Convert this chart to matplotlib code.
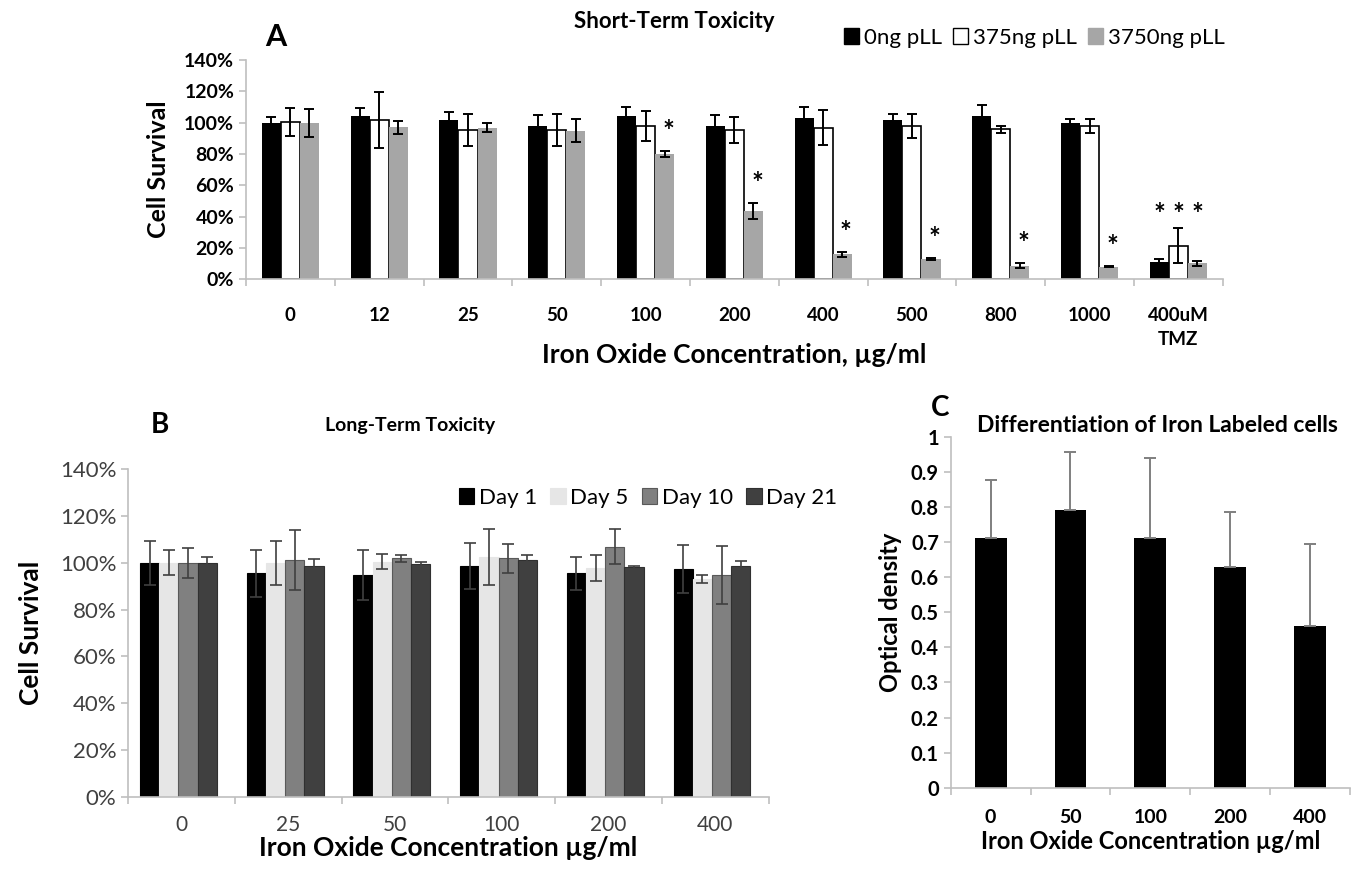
import numpy as np
import matplotlib.pyplot as plt
from matplotlib.patches import Patch

plt.rcParams['font.family'] = ['Lato', 'DejaVu Sans']

# ---- panel A: short-term toxicity ----
conc_a = ['0', '12', '25', '50', '100', '200', '400', '500', '800', '1000', '400uM\nTMZ']
pll0 = [99.6, 104.3, 101.7, 98.1, 104.3, 98.1, 103.2, 101.7, 104.3, 99.6, 11.3]
pll0_err = [4, 5, 5, 7, 5.5, 7, 7, 4, 7, 3, 1.5]
pll375 = [100.6, 101.7, 95.3, 95.3, 97.9, 95.3, 96.8, 97.9, 95.8, 97.9, 21.5]
pll375_err = [9, 18, 10, 10, 9.6, 8, 11, 7.5, 2.3, 4.3, 11]
pll3750 = [99.6, 97, 96.8, 94.9, 80, 43.8, 16, 13, 8.7, 8, 10.2]
pll3750_err = [9, 4, 3, 7.5, 2, 5, 1.5, 0.5, 1.5, 0.3, 1.5]
star_idx = [4, 5, 6, 7, 8, 9]

# ---- panel B: long-term toxicity ----
conc_b = ['0', '25', '50', '100', '200', '400']
days = ['Day 1', 'Day 5', 'Day 10', 'Day 21']
day1 = [100, 95.5, 94.8, 98.8, 95.5, 97.4]
day1_err = [9.3, 10, 10.7, 9.8, 7.1, 10.2]
day5 = [100, 100, 100.4, 102.5, 97.8, 92.9]
day5_err = [5.3, 9.5, 3.2, 12, 5.6, 1.7]
day10 = [100, 101.2, 101.9, 101.9, 106.9, 94.8]
day10_err = [6.5, 12.7, 1.5, 6.2, 7.4, 12.5]
day21 = [100, 98.6, 99.5, 101.2, 98.1, 98.8]
day21_err = [2.4, 3.2, 1, 2.3, 0.7, 2]

# ---- panel C: differentiation ----
conc_c = ['0', '50', '100', '200', '400']
od = [0.71, 0.79, 0.71, 0.63, 0.46]
od_err = [0.167, 0.166, 0.23, 0.155, 0.235]

W, H = 1368, 873
fig = plt.figure(figsize=(W / 100, H / 100), dpi=100)


def box(x0, x1, ytop, ybot):
    return [x0 / W, 1 - ybot / H, (x1 - x0) / W, (ybot - ytop) / H]


def style_axes(ax):
    for s in ['top', 'right']:
        ax.spines[s].set_visible(False)
    for s in ['left', 'bottom']:
        ax.spines[s].set_color('#bfbfbf')
        ax.spines[s].set_linewidth(1.2)
    ax.tick_params(axis='both', color='#bfbfbf', width=1.2, length=5, direction='out')


# panel A
axA = fig.add_axes(box(246, 1222.7, 60, 279.3))
xa = np.arange(len(conc_a))
wa = 0.215
ekw = dict(ecolor='black', elinewidth=1.4, capsize=3.5, capthick=1.4)
axA.bar(xa - wa, pll0, wa, color='black', yerr=pll0_err, error_kw=ekw)
axA.bar(xa, pll375, wa, color='white', edgecolor='black', linewidth=1.2, yerr=pll375_err, error_kw=ekw)
axA.bar(xa + wa, pll3750, wa, color='#a6a6a6', yerr=pll3750_err, error_kw=ekw)
for i in star_idx:
    axA.text(xa[i] + wa + 0.04, pll3750[i] + pll3750_err[i] + 4, '*', ha='center', va='bottom',
             fontsize=20, fontweight='bold')
for dx in (-wa, 0, wa):
    axA.text(xa[-1] + dx, 33, '*', ha='center', va='bottom', fontsize=20, fontweight='bold')
axA.set_xlim(-0.5, len(conc_a) - 0.5)
axA.set_ylim(0, 140)
axA.set_yticks(np.arange(0, 141, 20))
axA.set_yticklabels([f'{v}%' for v in range(0, 141, 20)], fontsize=14, fontweight='bold')
axA.set_xticks(np.arange(-0.5, len(conc_a)))
axA.set_xticklabels([])
axA.set_xticks(xa, minor=True)
axA.set_xticklabels(conc_a, minor=True, fontsize=13.5, fontweight='bold', linespacing=1.5)
style_axes(axA)
axA.tick_params(axis='x', which='minor', length=0, pad=20)
axA.set_ylabel('Cell Survival', fontsize=18, fontweight='bold', labelpad=10)
axA.set_xlabel('Iron Oxide Concentration, µg/ml', fontsize=19, fontweight='bold', labelpad=-4)
fig.text(276 / W, 1 - 37 / H, 'A', fontsize=22, fontweight='bold', ha='center', va='center')
fig.text(674 / W, 1 - 21 / H, 'Short-Term Toxicity', fontsize=16, fontweight='bold', ha='center', va='center')
hA = [Patch(facecolor='black', edgecolor='black'),
      Patch(facecolor='white', edgecolor='black'),
      Patch(facecolor='#a6a6a6', edgecolor='#a6a6a6')]
fig.legend(hA, ['0ng pLL', '375ng pLL', '3750ng pLL'], loc='center', bbox_to_anchor=(1034 / W, 1 - 38 / H),
           ncol=3, frameon=False, fontsize=16, handlelength=0.7, handleheight=0.7,
           handletextpad=0.2, columnspacing=0.5)

# panel B
axB = fig.add_axes(box(128.3, 768.5, 469.3, 796.7))
xb = np.arange(len(conc_b))
wb = 0.18
cols = ['#000000', '#e6e6e6', '#808080', '#404040']
edges = ['#000000', '#e6e6e6', '#595959', '#303030']
ekwb = dict(ecolor='#404040', elinewidth=1.2, capsize=4, capthick=1.2)
for k, (vals, errs) in enumerate([(day1, day1_err), (day5, day5_err), (day10, day10_err), (day21, day21_err)]):
    axB.bar(xb + (k - 1.5) * wb - 0.03, vals, wb, color=cols[k], edgecolor=edges[k], linewidth=0.8,
            yerr=errs, error_kw=ekwb, label=days[k])
axB.set_xlim(-0.5, len(conc_b) - 0.5)
axB.set_ylim(0, 140)
axB.set_yticks(np.arange(0, 141, 20))
axB.set_yticklabels([f'{v}%' for v in range(0, 141, 20)], fontsize=16, color='#404040')
axB.set_xticks(np.arange(-0.5, len(conc_b)))
axB.set_xticklabels([])
axB.set_xticks(xb, minor=True)
axB.set_xticklabels(conc_b, minor=True, fontsize=15, color='#404040')
style_axes(axB)
axB.tick_params(axis='x', which='minor', length=0, pad=13)
axB.set_ylabel('Cell Survival', fontsize=19, fontweight='bold', labelpad=12)
axB.set_xlabel('Iron Oxide Concentration µg/ml', fontsize=19, fontweight='bold', labelpad=1)
axB.legend(loc='center', bbox_to_anchor=(648 / W, 1 - 498 / H), bbox_transform=fig.transFigure,
           ncol=4, frameon=False, fontsize=16, handlelength=0.7, handleheight=0.7,
           handletextpad=0.2, columnspacing=0.6)
fig.text(160 / W, 1 - 425 / H, 'B', fontsize=20, fontweight='bold', ha='center', va='center')
fig.text(410 / W, 1 - 425 / H, 'Long-Term Toxicity', fontsize=14, fontweight='bold', ha='center', va='center')

# panel C
axC = fig.add_axes(box(950.7, 1350, 436.7, 787.7))
xc = np.arange(len(conc_c))
axC.bar(xc, od, 0.4, color='black', yerr=[np.zeros(len(od)), od_err],
        error_kw=dict(ecolor='#7f7f7f', elinewidth=1.4, capsize=4, capthick=1.4))
axC.set_xlim(-0.5, len(conc_c) - 0.5)
axC.set_ylim(0, 1)
axC.set_yticks(np.arange(0, 1.01, 0.1))
axC.set_yticklabels(['0'] + [f'{v:.1f}' for v in np.arange(0.1, 0.95, 0.1)] + ['1'],
                    fontsize=14.5, fontweight='bold')
axC.set_xticks(np.arange(-0.5, len(conc_c)))
axC.set_xticklabels([])
axC.set_xticks(xc, minor=True)
axC.set_xticklabels(conc_c, minor=True, fontsize=14, fontweight='bold')
style_axes(axC)
axC.tick_params(axis='x', which='minor', length=0, pad=15)
axC.set_ylabel('Optical density', fontsize=17, fontweight='bold', labelpad=6)
axC.set_xlabel('Iron Oxide Concentration µg/ml', fontsize=17, fontweight='bold', labelpad=3)
fig.text(940 / W, 1 - 408 / H, 'C', fontsize=20, fontweight='bold', ha='center', va='center')
fig.text(1157 / W, 1 - 425 / H, 'Differentiation of Iron Labeled cells', fontsize=16.5, fontweight='bold',
         ha='center', va='center')

fig.savefig('out.png', dpi=100)
